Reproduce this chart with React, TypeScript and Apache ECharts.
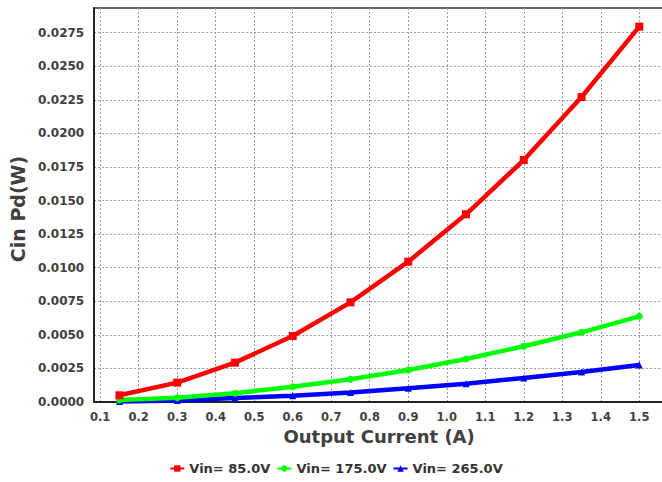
import React, { useEffect, useRef } from "react";
import * as echarts from "echarts";

const xValues = [0.15, 0.3, 0.45, 0.6, 0.75, 0.9, 1.05, 1.2, 1.35, 1.5];
const vin85 = [0.0005, 0.00144, 0.00293, 0.00491, 0.00742, 0.01045, 0.01398, 0.01802, 0.02271, 0.02795];
const vin175 = [0.00015, 0.00032, 0.00065, 0.00114, 0.00169, 0.00238, 0.0032, 0.00415, 0.00519, 0.00638];
const vin265 = [0.00004, 0.00012, 0.0003, 0.00047, 0.0007, 0.00102, 0.00136, 0.00179, 0.00223, 0.00276];
const seriesNames = ["Vin= 85.0V", "Vin= 175.0V", "Vin= 265.0V"];
const xTicks = [0.1, 0.2, 0.3, 0.4, 0.5, 0.6, 0.7, 0.8, 0.9, 1.0, 1.1, 1.2, 1.3, 1.4, 1.5];
const yTicks = [0, 0.0025, 0.005, 0.0075, 0.01, 0.0125, 0.015, 0.0175, 0.02, 0.0225, 0.025, 0.0275];

const FONT = "DejaVu Sans";
const TXT = "#404040";
const W = 672;

export default function App() {
  const ref = useRef<HTMLDivElement>(null);
  useEffect(() => {
    if (!ref.current) return;
    const chart = echarts.init(ref.current, null, { renderer: "svg" });
    const mk = (vals: number[]) => xValues.map((x, i) => [x, vals[i]]);
    const colors = ["#ff0000", "#00ff00", "#0000ff"];
    const symbols = ["rect", "circle", "triangle"];
    const data = [vin85, vin175, vin265];
    chart.setOption({
      animation: false,
      backgroundColor: "#ffffff",
      grid: {
        left: 90,
        top: 8,
        bottom: 80,
        right: 0,
        show: true,
        borderColor: "#333333",
        borderWidth: 1.5,
      },
      legend: {
        top: 457,
        left: "center",
        itemWidth: 14,
        itemHeight: 8,
        itemGap: 6,
        padding: [5, 3, 5, 0],
        textStyle: { fontFamily: FONT, fontWeight: "bold", fontSize: 13, color: "#333333" },
        data: seriesNames,
      },
      xAxis: {
        type: "value",
        min: 0.0845,
        max: 0.1 + (W - 96) / 387.9,
        name: "Output Current (A)",
        nameLocation: "middle",
        nameGap: 25,
        nameTextStyle: { fontFamily: FONT, fontWeight: "bold", fontSize: 18, color: TXT, padding: [0, 8, 0, 0] },
        axisLine: { show: true, lineStyle: { color: "#222222", width: 2 } },
        axisTick: { show: false, customValues: xTicks },
        axisLabel: {
          customValues: xTicks,
          margin: 9,
          fontFamily: FONT,
          fontWeight: "bold",
          fontSize: 11.5,
          color: TXT,
          formatter: (v: number) => v.toFixed(1),
        },
        splitLine: { show: true, lineStyle: { color: "#999999", type: [2, 2], width: 1 } },
      },
      yAxis: {
        type: "value",
        min: 0,
        max: 0.02934,
        name: "Cin Pd(W)",
        nameLocation: "middle",
        nameGap: 60,
        nameTextStyle: { fontFamily: FONT, fontWeight: "bold", fontSize: 19, color: TXT, padding: [0, 8, 0, 0] },
        axisLine: { show: true, lineStyle: { color: "#222222", width: 2 } },
        axisTick: { show: false, customValues: yTicks },
        axisLabel: {
          customValues: yTicks,
          margin: 10,
          fontFamily: FONT,
          fontWeight: "bold",
          fontSize: 12,
          color: TXT,
          formatter: (v: number) => v.toFixed(4),
        },
        splitLine: { show: true, lineStyle: { color: "#999999", type: [2, 2], width: 1 } },
      },
      series: data.map((d, i) => ({
        name: seriesNames[i],
        type: "line",
        data: mk(d),
        symbol: symbols[i],
        symbolSize: i === 0 ? 8 : 7,
        showSymbol: true,
        itemStyle: { color: colors[i] },
        lineStyle: { color: colors[i], width: 4.5 },
        z: 10 - i,
      })),
    });
    return () => chart.dispose();
  }, []);
  return (
    <div
      ref={ref}
      style={{ position: "fixed", left: 0, top: 0, width: W, height: 482, background: "#fff" }}
    />
  );
}
